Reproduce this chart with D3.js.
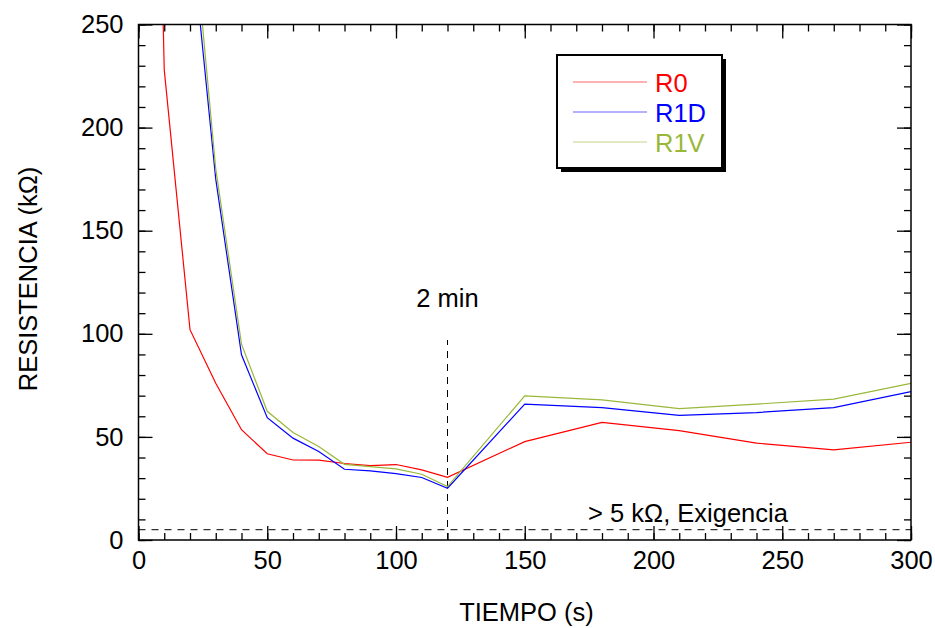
<!DOCTYPE html>
<html>
<head>
<meta charset="utf-8">
<script src="https://cdn.jsdelivr.net/npm/d3@7"></script>
<style>
  body { margin: 0; background: #fff; }
  svg { display: block; font-family: "Liberation Sans", Arial, sans-serif; }
</style>
</head>
<body>
<svg id="chart" width="935" height="628"></svg>
<script>
// Tiempo de medida (s) y resistencia (kΩ) de cada muestra
const tiempoR0  = [0, 10, 20, 30, 40, 50, 60, 70, 80, 90, 100, 110, 120, 150, 180, 210, 240, 270, 300];
const valoresR0 = [780, 228, 102, 76, 53.5, 41.8, 38.8, 38.7, 37.1, 36.1, 36.6, 34, 30.4, 47.7, 57, 53, 47, 43.7, 47.4];

const tiempoR1  = [20, 30, 40, 50, 60, 70, 80, 90, 100, 110, 120, 150, 180, 210, 240, 270, 300];
const valoresR1D = [300, 175, 89.8, 59.3, 49.4, 42.9, 34.3, 33.5, 32.2, 30.3, 25.1, 65.9, 64.2, 60.4, 61.8, 64.2, 72];
const valoresR1V = [315, 180, 95, 62.4, 52.1, 45.3, 36.7, 35.6, 34.5, 31.9, 25.9, 69.9, 68, 63.7, 65.9, 68.3, 76];

const nombresSeries = ["R0", "R1D", "R1V"];
const coloresSeries = ["#ff0000", "#0000ff", "#99b83a"];

const ticksX = [0, 50, 100, 150, 200, 250, 300];
const ticksY = [0, 50, 100, 150, 200, 250];

const exigencia = 5;      // kΩ mínimo exigido
const marcaTiempo = 120;  // 2 min
const altoMarca = 97;

const svg = d3.select("#chart");
const pL = 138.5, pR = 911, pT = 24.5, pB = 540;
const fs = 25.5;

const x = d3.scaleLinear().domain([0, 300]).range([pL, pR]);
const y = d3.scaleLinear().domain([0, 250]).range([pB, pT]);

const series = [
  { name: nombresSeries[0], color: coloresSeries[0], data: tiempoR0.map((t, i) => [t, valoresR0[i]]) },
  { name: nombresSeries[1], color: coloresSeries[1], data: tiempoR1.map((t, i) => [t, valoresR1D[i]]) },
  { name: nombresSeries[2], color: coloresSeries[2], data: tiempoR1.map((t, i) => [t, valoresR1V[i]]) }
];

svg.append("defs").append("clipPath").attr("id", "area")
  .append("rect").attr("x", pL).attr("y", pT)
  .attr("width", pR - pL).attr("height", pB - pT);

// Línea de exigencia y marca de 2 min
svg.append("line")
  .attr("x1", pL).attr("x2", pR)
  .attr("y1", y(exigencia)).attr("y2", y(exigencia))
  .attr("stroke", "#000").attr("stroke-width", 1)
  .attr("stroke-dasharray", "7,6");

svg.append("line")
  .attr("x1", x(marcaTiempo)).attr("x2", x(marcaTiempo))
  .attr("y1", y(0)).attr("y2", y(altoMarca))
  .attr("stroke", "#000").attr("stroke-width", 1)
  .attr("stroke-dasharray", "7,6");

// Series
const line = d3.line().x(d => x(d[0])).y(d => y(d[1]));
const g = svg.append("g").attr("clip-path", "url(#area)");
series.forEach(s => {
  g.append("path").datum(s.data)
    .attr("d", line)
    .attr("fill", "none")
    .attr("stroke", s.color)
    .attr("stroke-width", 1.2);
});

// Ejes con marcas hacia dentro (mayores y menores), en los cuatro lados
const minorX = d3.range(0, 301, 10);
const minorY = d3.range(0, 251, 10);
const frame = svg.append("g");

frame.append("g").attr("transform", `translate(0,${pB})`)
  .call(d3.axisBottom(x).tickValues(minorX).tickSize(-7).tickFormat(""));
frame.append("g").attr("transform", `translate(0,${pT})`)
  .call(d3.axisTop(x).tickValues(minorX).tickSize(-7).tickFormat(""));
frame.append("g").attr("transform", `translate(${pL},0)`)
  .call(d3.axisLeft(y).tickValues(minorY).tickSize(-7).tickFormat(""));
frame.append("g").attr("transform", `translate(${pR},0)`)
  .call(d3.axisRight(y).tickValues(minorY).tickSize(-7).tickFormat(""));

frame.append("g").attr("transform", `translate(0,${pB})`)
  .call(d3.axisBottom(x).tickValues(ticksX).tickSize(-14).tickPadding(11).tickFormat(d3.format("d")));
frame.append("g").attr("transform", `translate(0,${pT})`)
  .call(d3.axisTop(x).tickValues(ticksX).tickSize(-14).tickFormat(""));
frame.append("g").attr("transform", `translate(${pL},0)`)
  .call(d3.axisLeft(y).tickValues(ticksY).tickSize(-14).tickPadding(15).tickFormat(d3.format("d")));
frame.append("g").attr("transform", `translate(${pR},0)`)
  .call(d3.axisRight(y).tickValues(ticksY).tickSize(-14).tickFormat(""));

frame.selectAll(".domain").remove();
frame.selectAll(".tick line").attr("stroke", "#000").attr("stroke-width", 1.3);
frame.selectAll(".tick text").attr("font-size", fs).attr("fill", "#000")
  .attr("font-family", "'Liberation Sans', Arial, sans-serif");

svg.append("rect")
  .attr("x", pL).attr("y", pT)
  .attr("width", pR - pL).attr("height", pB - pT)
  .attr("fill", "none").attr("stroke", "#000").attr("stroke-width", 1.5);

// Textos
svg.append("text").attr("x", x(marcaTiempo)).attr("y", 306.5)
  .attr("text-anchor", "middle").attr("font-size", fs).text("2 min");

svg.append("text").attr("x", 688).attr("y", 521.5)
  .attr("text-anchor", "middle").attr("font-size", fs).text("> 5 kΩ, Exigencia");

svg.append("text").attr("x", 526.5).attr("y", 621)
  .attr("text-anchor", "middle").attr("font-size", fs).text("TIEMPO (s)");

svg.append("text")
  .attr("transform", "translate(37,279) rotate(-90)")
  .attr("text-anchor", "middle").attr("font-size", fs).text("RESISTENCIA (kΩ)");

// Leyenda con sombra
const lg = svg.append("g");
lg.append("rect").attr("x", 561).attr("y", 59).attr("width", 165).attr("height", 113).attr("fill", "#000");
lg.append("rect").attr("x", 557).attr("y", 55).attr("width", 165).attr("height", 113)
  .attr("fill", "#fff").attr("stroke", "#000").attr("stroke-width", 2);
series.forEach((s, i) => {
  const yy = 82 + i * 30;
  lg.append("line").attr("x1", 573).attr("x2", 647).attr("y1", yy).attr("y2", yy)
    .attr("stroke", s.color).attr("stroke-width", 1.2).attr("opacity", 0.6);
  lg.append("text").attr("x", 655).attr("y", yy + 10)
    .attr("font-size", fs).attr("fill", s.color).text(s.name);
});
</script>
</body>
</html>
